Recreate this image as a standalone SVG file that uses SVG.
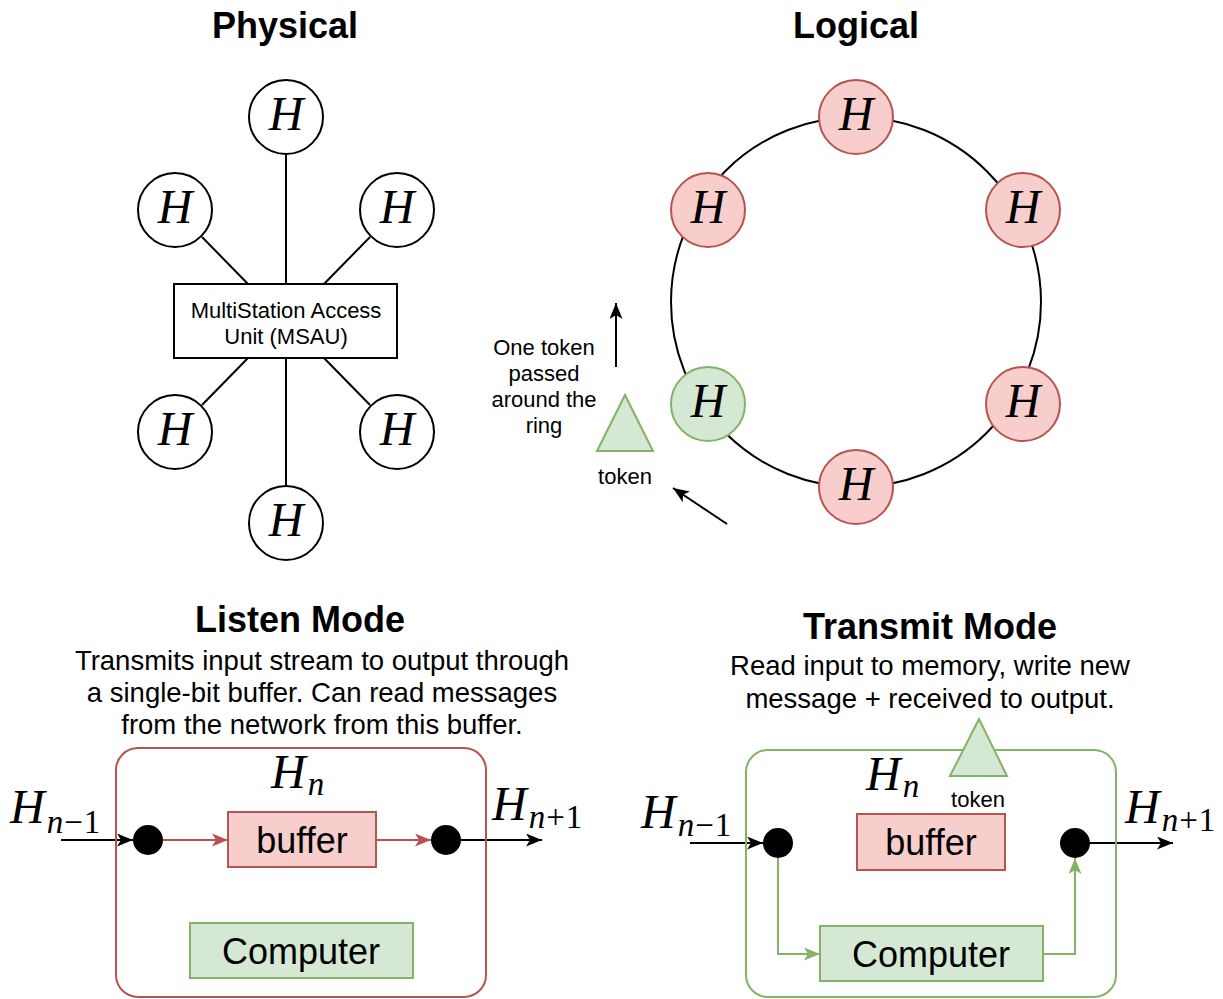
<svg xmlns="http://www.w3.org/2000/svg" width="1223" height="999" viewBox="0 0 1223 999">
<style>
.t{font-family:"Liberation Sans",Arial,sans-serif;fill:#000;text-anchor:middle}
.title{font-size:36px;font-weight:bold}
.desc{font-size:27.5px}
.sm{font-size:22px}
.big{font-size:36px}
.m{font-family:"Liberation Serif","Times New Roman",serif;font-style:italic;fill:#000}
.mh{font-size:48px}
.mr{font-style:normal}
.wn{fill:#fff;stroke:#000;stroke-width:2}
.rn{fill:#f8cecc;stroke:#b85450;stroke-width:2}
.gn{fill:#d5e8d4;stroke:#82b366;stroke-width:2}
.ln{stroke:#000;stroke-width:2;fill:none}
.rl{stroke:#b85450;stroke-width:2;fill:none}
.gl{stroke:#82b366;stroke-width:2;fill:none}
</style>
<defs>
<marker id="ab" viewBox="0 0 16 13" refX="16" refY="6.5" markerWidth="16" markerHeight="13" markerUnits="userSpaceOnUse" orient="auto"><path d="M0,0 L16,6.5 L0,13 L4,6.5 Z" fill="#000"/></marker>
<marker id="ar" viewBox="0 0 16 13" refX="16" refY="6.5" markerWidth="16" markerHeight="13" markerUnits="userSpaceOnUse" orient="auto"><path d="M0,0 L16,6.5 L0,13 L4,6.5 Z" fill="#b85450"/></marker>
<marker id="ag" viewBox="0 0 16 13" refX="16" refY="6.5" markerWidth="16" markerHeight="13" markerUnits="userSpaceOnUse" orient="auto"><path d="M0,0 L16,6.5 L0,13 L4,6.5 Z" fill="#82b366"/></marker>
</defs>

<!-- Titles -->
<g id="titles">
<text class="t title" x="285" y="38">Physical</text>
<text class="t title" x="856" y="38">Logical</text>
<text class="t title" x="300" y="632">Listen Mode</text>
<text class="t desc" x="322" y="670">Transmits input stream to output through</text>
<text class="t desc" x="322" y="702">a single-bit buffer. Can read messages</text>
<text class="t desc" x="322" y="734">from the network from this buffer.</text>
<text class="t title" x="930" y="639">Transmit Mode</text>
<text class="t desc" x="930" y="675">Read input to memory, write new</text>
<text class="t desc" x="930" y="708">message + received to output.</text>
</g>

<!-- Connectors -->
<g id="connectors">
<line class="ln" x1="286" y1="154" x2="286" y2="284"/>
<line class="ln" x1="202" y1="237" x2="248" y2="284"/>
<line class="ln" x1="370" y1="237" x2="324" y2="284"/>
<line class="ln" x1="248" y1="358" x2="202" y2="405"/>
<line class="ln" x1="324" y1="358" x2="370" y2="405"/>
<line class="ln" x1="286" y1="358" x2="286" y2="486"/>
<circle class="ln" cx="856" cy="302" r="185"/>
<line class="ln" x1="616" y1="367" x2="616" y2="303" marker-end="url(#ab)"/>
<line class="ln" x1="727" y1="524" x2="673" y2="488" marker-end="url(#ab)"/>
<line class="ln" x1="61" y1="840" x2="133" y2="840" marker-end="url(#ab)"/>
<line class="rl" x1="163" y1="840" x2="228" y2="840" marker-end="url(#ar)"/>
<line class="rl" x1="376" y1="840" x2="431" y2="840" marker-end="url(#ar)"/>
<line class="ln" x1="461" y1="840" x2="542" y2="840" marker-end="url(#ab)"/>
<line class="ln" x1="690" y1="843" x2="763" y2="843" marker-end="url(#ab)"/>
<path class="gl" d="M778,858 V954 H820" marker-end="url(#ag)"/>
<path class="gl" d="M1043,954 H1075 V858" marker-end="url(#ag)"/>
<line class="ln" x1="1090" y1="843" x2="1173" y2="843" marker-end="url(#ab)"/>
</g>

<!-- Physical -->
<g id="msau"><rect class="wn" x="174" y="284" width="223" height="74"/>
<text class="t sm" x="286" y="318">MultiStation Access</text>
<text class="t sm" x="286" y="344">Unit (MSAU)</text></g>
<g id="p1"><circle class="wn" cx="286" cy="117" r="37"/><text class="m mh" x="286" y="130" text-anchor="middle">H</text></g>
<g id="p2"><circle class="wn" cx="175" cy="210" r="37"/><text class="m mh" x="175" y="223" text-anchor="middle">H</text></g>
<g id="p3"><circle class="wn" cx="397" cy="210" r="37"/><text class="m mh" x="397" y="223" text-anchor="middle">H</text></g>
<g id="p4"><circle class="wn" cx="175" cy="432" r="37"/><text class="m mh" x="175" y="445" text-anchor="middle">H</text></g>
<g id="p5"><circle class="wn" cx="397" cy="432" r="37"/><text class="m mh" x="397" y="445" text-anchor="middle">H</text></g>
<g id="p6"><circle class="wn" cx="286" cy="523" r="37"/><text class="m mh" x="286" y="536" text-anchor="middle">H</text></g>

<!-- Logical -->
<g id="l1"><circle class="rn" cx="856" cy="117" r="37"/><text class="m mh" x="856" y="130" text-anchor="middle">H</text></g>
<g id="l2"><circle class="rn" cx="708" cy="210" r="37"/><text class="m mh" x="708" y="223" text-anchor="middle">H</text></g>
<g id="l3"><circle class="rn" cx="1023" cy="210" r="37"/><text class="m mh" x="1023" y="223" text-anchor="middle">H</text></g>
<g id="l4"><circle class="gn" cx="708" cy="404" r="37"/><text class="m mh" x="708" y="417" text-anchor="middle">H</text></g>
<g id="l5"><circle class="rn" cx="1023" cy="404" r="37"/><text class="m mh" x="1023" y="417" text-anchor="middle">H</text></g>
<g id="l6"><circle class="rn" cx="856" cy="487" r="37"/><text class="m mh" x="856" y="500" text-anchor="middle">H</text></g>
<g id="ringlabel">
<text class="t sm" x="544" y="355">One token</text>
<text class="t sm" x="544" y="381">passed</text>
<text class="t sm" x="544" y="407">around the</text>
<text class="t sm" x="544" y="433">ring</text>
</g>
<g id="token"><polygon class="gn" points="625,395 597,451 653,451"/><text class="t sm" x="625" y="484">token</text></g>

<!-- Listen mode -->
<g id="listenbox"><rect x="116" y="748" width="370" height="249" rx="22" fill="none" stroke="#b85450" stroke-width="2"/>
<text class="m" x="271" y="788" font-size="48">H<tspan font-size="33" dx="2" dy="7">n</tspan></text></g>
<g id="lin"><text class="m" x="10" y="823" font-size="48">H<tspan font-size="33" dx="2" dy="10">n</tspan><tspan class="mr" font-size="33" dx="1">−</tspan><tspan class="mr" font-size="33" dx="1">1</tspan></text></g>
<g id="lout"><text class="m" x="492" y="820" font-size="48">H<tspan font-size="33" dx="2" dy="8">n</tspan><tspan class="mr" font-size="33" dx="1">+</tspan><tspan class="mr" font-size="33" dx="1">1</tspan></text></g>
<g id="ldot1"><circle cx="148" cy="840" r="15" fill="#000"/></g>
<g id="lbuf"><rect class="rn" x="228" y="812" width="148" height="55"/><text class="t big" x="302" y="853">buffer</text></g>
<g id="ldot2"><circle cx="446" cy="840" r="15" fill="#000"/></g>
<g id="lcomp"><rect class="gn" x="190" y="923" width="223" height="55"/><text class="t big" x="301" y="964">Computer</text></g>

<!-- Transmit mode -->
<g id="transbox"><rect x="746" y="750" width="370" height="247" rx="22" fill="none" stroke="#82b366" stroke-width="2"/>
<text class="m" x="866" y="790" font-size="48">H<tspan font-size="33" dx="2" dy="7">n</tspan></text></g>
<g id="ttoken"><polygon class="gn" points="979,719 950,776 1007,776"/><text class="t sm" x="978" y="807">token</text></g>
<g id="tin"><text class="m" x="641" y="828" font-size="48">H<tspan font-size="33" dx="2" dy="8">n</tspan><tspan class="mr" font-size="33" dx="1">−</tspan><tspan class="mr" font-size="33" dx="1">1</tspan></text></g>
<g id="tout"><text class="m" x="1125" y="823" font-size="48">H<tspan font-size="33" dx="2" dy="8">n</tspan><tspan class="mr" font-size="33" dx="1">+</tspan><tspan class="mr" font-size="33" dx="1">1</tspan></text></g>
<g id="tdot1"><circle cx="778" cy="843" r="15" fill="#000"/></g>
<g id="tbuf"><rect class="rn" x="857" y="814" width="148" height="56"/><text class="t big" x="931" y="855">buffer</text></g>
<g id="tdot2"><circle cx="1075" cy="843" r="15" fill="#000"/></g>
<g id="tcomp"><rect class="gn" x="820" y="926" width="223" height="55"/><text class="t big" x="931" y="967">Computer</text></g>
</svg>
